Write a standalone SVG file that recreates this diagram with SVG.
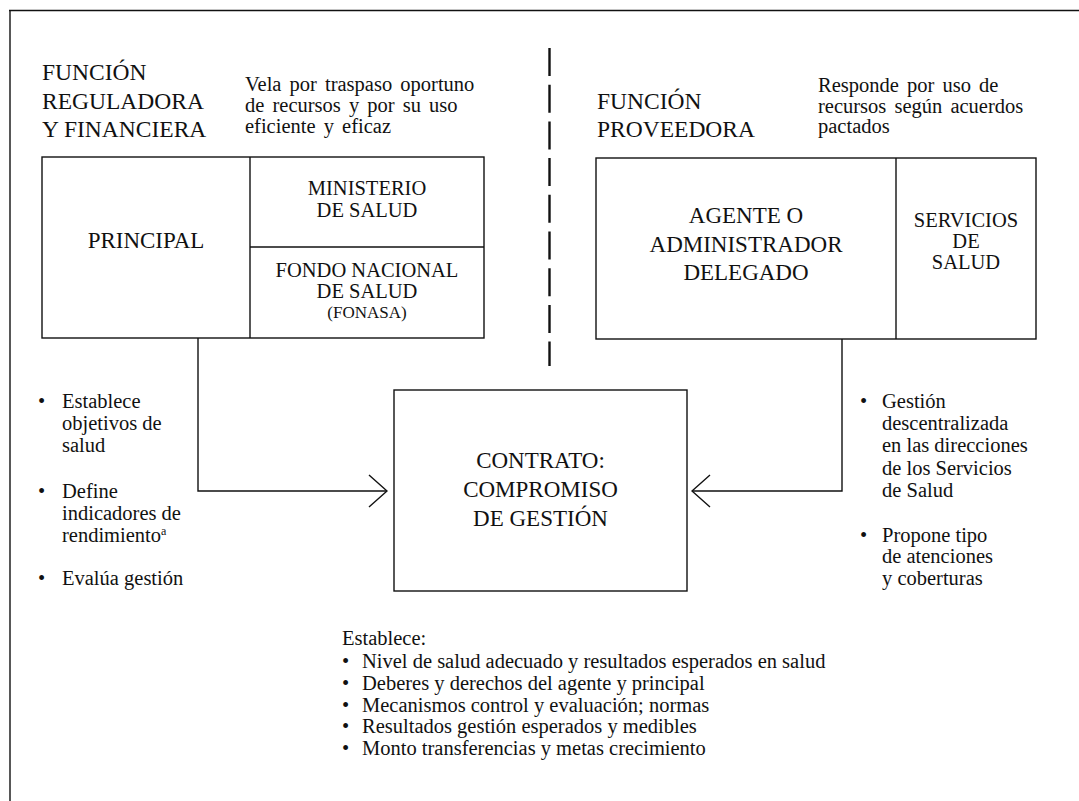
<svg xmlns="http://www.w3.org/2000/svg" width="1079" height="801" viewBox="0 0 1079 801" font-family="'Liberation Serif', 'DejaVu Serif', serif">
<style>
text{font-family:'Liberation Serif','DejaVu Serif',serif;fill:#111}
.t{font-size:23.5px}
.b{font-size:23px}
.m{font-size:20.5px}
.s{font-size:20.5px}
.d{font-size:20.5px;word-spacing:3px}
.box{fill:none;stroke:#111;stroke-width:1.4}
.ln{fill:none;stroke:#111;stroke-width:1.4}
.c{text-anchor:middle}
</style>
<defs>
<marker id="chev" viewBox="0 0 20 34" refX="19" refY="17" markerWidth="20" markerHeight="34" markerUnits="userSpaceOnUse" orient="auto">
<path d="M1,1 L19,17 L1,33" fill="none" stroke="#111" stroke-width="1.4"/>
</marker>
</defs>
<rect width="1079" height="801" fill="#fff"/>
<g id="frame">
<line x1="9" y1="10.5" x2="1079" y2="10.5" class="ln"/>
<line x1="10" y1="10" x2="10" y2="801" class="ln"/>
<line x1="549.5" y1="48" x2="549.5" y2="366" stroke="#111" stroke-width="2.4" stroke-dasharray="28 8.7"/>
</g>
<g id="left-header">
<text class="t" x="42" y="80">FUNCIÓN</text>
<text class="t" x="42" y="109">REGULADORA</text>
<text class="t" x="42" y="137">Y FINANCIERA</text>
<text class="d" x="245" y="91">Vela por traspaso oportuno</text>
<text class="d" x="245" y="112">de recursos y por su uso</text>
<text class="d" x="245" y="133">eficiente y eficaz</text>
</g>
<g id="principal">
<rect class="box" x="42" y="157" width="442" height="181"/>
<line class="ln" x1="250" y1="157" x2="250" y2="338"/>
<line class="ln" x1="250" y1="247" x2="484" y2="247"/>
<text class="b c" x="146" y="248">PRINCIPAL</text>
<text class="m c" x="367" y="195">MINISTERIO</text>
<text class="m c" x="367" y="217">DE SALUD</text>
<text class="m c" x="367" y="277">FONDO NACIONAL</text>
<text class="m c" x="367" y="298">DE SALUD</text>
<text class="c" x="367" y="318" style="font-size:17px">(FONASA)</text>
</g>
<g id="right-header">
<text class="t" x="597" y="109">FUNCIÓN</text>
<text class="t" x="597" y="137">PROVEEDORA</text>
<text class="d" x="818" y="92">Responde por uso de</text>
<text class="d" x="818" y="113">recursos según acuerdos</text>
<text class="d" x="818" y="133">pactados</text>
</g>
<g id="agente">
<rect class="box" x="596" y="158" width="440" height="181"/>
<line class="ln" x1="896" y1="158" x2="896" y2="339"/>
<text class="b c" x="746" y="223">AGENTE O</text>
<text class="b c" x="746" y="252">ADMINISTRADOR</text>
<text class="b c" x="746" y="280">DELEGADO</text>
<text class="m c" x="966" y="227">SERVICIOS</text>
<text class="m c" x="966" y="248">DE</text>
<text class="m c" x="966" y="269">SALUD</text>
</g>
<g id="contrato">
<rect class="box" x="394" y="390" width="293" height="201"/>
<text class="b c" x="540.5" y="468">CONTRATO:</text>
<text class="b c" x="540.5" y="497">COMPROMISO</text>
<text class="b c" x="540.5" y="526">DE GESTIÓN</text>
</g>
<g id="connectors">
<polyline class="ln" points="198,338 198,491 387,491" marker-end="url(#chev)"/>
<polyline class="ln" points="842,339 842,491 692,491" marker-end="url(#chev)"/>
</g>
<g id="left-bullets">
<text class="s" x="38" y="408">•</text>
<text class="s" x="62" y="408">Establece</text>
<text class="s" x="62" y="430">objetivos de</text>
<text class="s" x="62" y="452">salud</text>
<text class="s" x="38" y="498">•</text>
<text class="s" x="62" y="498">Define</text>
<text class="s" x="62" y="520">indicadores de</text>
<text class="s" x="62" y="542">rendimiento<tspan style="font-size:12px" dy="-7">a</tspan></text>
<text class="s" x="38" y="585">•</text>
<text class="s" x="62" y="585">Evalúa gestión</text>
</g>
<g id="right-bullets">
<text class="s" x="860" y="408">•</text>
<text class="s" x="882" y="408">Gestión</text>
<text class="s" x="882" y="430">descentralizada</text>
<text class="s" x="882" y="452">en las direcciones</text>
<text class="s" x="882" y="475">de los Servicios</text>
<text class="s" x="882" y="497">de Salud</text>
<text class="s" x="860" y="542">•</text>
<text class="s" x="882" y="542">Propone tipo</text>
<text class="s" x="882" y="563">de atenciones</text>
<text class="s" x="882" y="585">y coberturas</text>
</g>
<g id="establece">
<text class="s" x="342" y="645">Establece:</text>
<text class="s" x="342" y="668">•</text>
<text class="s" x="362" y="668">Nivel de salud adecuado y resultados esperados en salud</text>
<text class="s" x="342" y="690">•</text>
<text class="s" x="362" y="690">Deberes y derechos del agente y principal</text>
<text class="s" x="342" y="712">•</text>
<text class="s" x="362" y="712">Mecanismos control y evaluación; normas</text>
<text class="s" x="342" y="733">•</text>
<text class="s" x="362" y="733">Resultados gestión esperados y medibles</text>
<text class="s" x="342" y="755">•</text>
<text class="s" x="362" y="755">Monto transferencias y metas crecimiento</text>
</g>
</svg>
